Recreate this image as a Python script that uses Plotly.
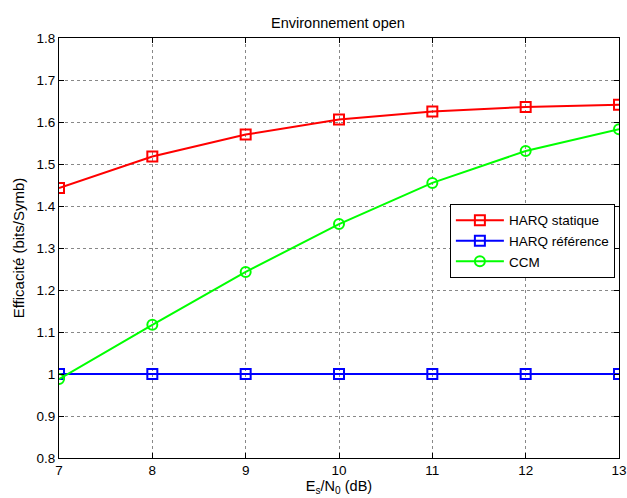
import plotly.graph_objects as go

x = [7, 8, 9, 10, 11, 12, 13]
harq_statique = [1.443, 1.518, 1.570, 1.606, 1.625, 1.636, 1.641]
harq_reference = [1.0, 1.0, 1.0, 1.0, 1.0, 1.0, 1.0]
ccm = [0.988, 1.117, 1.243, 1.357, 1.455, 1.531, 1.583]

FONT = "Liberation Sans, Arial"

fig = go.Figure()
fig.add_trace(go.Scatter(x=x, y=harq_statique, name="HARQ statique", mode="lines+markers",
                         line=dict(color="#ff0000", width=2),
                         marker=dict(symbol="square-open", size=10, color="#ff0000", line=dict(width=2))))
fig.add_trace(go.Scatter(x=x, y=harq_reference, name="HARQ référence", mode="lines+markers",
                         line=dict(color="#0000ff", width=2),
                         marker=dict(symbol="square-open", size=10, color="#0000ff", line=dict(width=2))))
fig.add_trace(go.Scatter(x=x, y=ccm, name="CCM", mode="lines+markers",
                         line=dict(color="#00ff00", width=2),
                         marker=dict(symbol="circle-open", size=10, color="#00ff00", line=dict(width=2))))

axis_common = dict(showline=True, linecolor="black", linewidth=1, mirror="ticks",
                   ticks="inside", ticklen=5, tickcolor="black", automargin=False,
                   showgrid=True, gridcolor="#888888", griddash="dot", gridwidth=1,
                   zeroline=False, tickfont=dict(family=FONT, size=13.5, color="black"))

fig.update_layout(
    width=627, height=498,
    margin=dict(l=59, r=8, t=38, b=40),
    paper_bgcolor="white", plot_bgcolor="white",
    title=dict(text="Environnement open", x=0.539, xanchor="center", y=0.954, yanchor="middle",
               font=dict(family=FONT, size=14.5, color="black")),
    xaxis=dict(range=[7, 13], dtick=1,
               title=dict(text="E<sub>s</sub>/N<sub>0</sub> (dB)", standoff=1,
                          font=dict(family=FONT, size=14.5, color="black")),
               **axis_common),
    yaxis=dict(range=[0.8, 1.8], dtick=0.1, tickformat=".1~f",
               title=dict(text="Efficacité (bits/Symb)", standoff=8,
                          font=dict(family=FONT, size=15, color="black")),
               **axis_common),
    legend=dict(x=0.698, y=0.605, xanchor="left", yanchor="top",
                bgcolor="white", bordercolor="black", borderwidth=1,
                font=dict(family=FONT, size=13.5, color="black"),
                tracegroupgap=0, itemwidth=48),
    showlegend=True,
)

fig.write_html("out.html", config={"displayModeBar": False},
               post_script="document.body.style.margin='0px';")
